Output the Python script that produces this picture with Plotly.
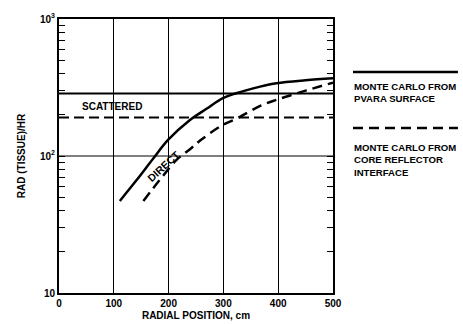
import plotly.graph_objects as go

# Data
direct_pvara_x = [111, 142, 172, 199, 239, 270, 299, 322, 367, 397, 450, 500]
direct_pvara_y = [47, 67, 96, 131, 183, 222, 264, 286, 321, 340, 357, 369]

direct_core_x = [154, 184, 215, 239, 260, 297, 327, 367, 397, 450, 500]
direct_core_y = [47, 67, 94, 112, 132, 167, 190, 232, 257, 300, 343]

scattered_x = [0, 500]
scattered_pvara_y = [286, 286]
scattered_core_y = [191, 191]

y_tickvals = [10, 20, 30, 40, 50, 60, 70, 80, 90,
              100, 200, 300, 400, 500, 600, 700, 800, 900, 1000]
y_ticktext = ["10", "", "", "", "", "", "", "", "",
              "10<sup>2</sup>", "", "", "", "", "", "", "", "", "10<sup>3</sup>"]
y_gridvals = [100]
x_tickvals = [0, 100, 200, 300, 400, 500]

FONT = dict(family="Liberation Sans, Arial, sans-serif", size=10, color="black", weight="bold")
LFONT = dict(FONT, size=9.6)

fig = go.Figure()
fig.add_trace(go.Scatter(x=scattered_x, y=scattered_pvara_y, mode="lines",
                         line=dict(color="black", width=2)))
fig.add_trace(go.Scatter(x=scattered_x, y=scattered_core_y, mode="lines",
                         line=dict(color="black", width=2, dash="10px,5px")))
fig.add_trace(go.Scatter(x=direct_pvara_x, y=direct_pvara_y, mode="lines",
                         line=dict(color="black", width=2.5, shape="spline", smoothing=1)))
fig.add_trace(go.Scatter(x=direct_core_x, y=direct_core_y, mode="lines",
                         line=dict(color="black", width=2.5, dash="10px,6px", shape="spline",
                                   smoothing=1)))

# horizontal grid line(s)
for gv in y_gridvals:
    fig.add_shape(type="line", xref="paper", yref="y", x0=0, x1=1, y0=gv, y1=gv,
                  line=dict(color="black", width=1), layer="below")

fig.add_annotation(x=191, y=1.925, xref="x", yref="y", text="DIRECT", showarrow=False,
                   textangle=-43, font=dict(FONT, size=10.5))
fig.add_annotation(x=97, y=2.36, xref="x", yref="y", text="SCATTERED", showarrow=False,
                   font=FONT)

# legend drawn manually
fig.add_shape(type="line", xref="paper", yref="paper", x0=1.073, x1=1.456, y0=0.807, y1=0.807,
              line=dict(color="black", width=2.5))
fig.add_shape(type="line", xref="paper", yref="paper", x0=1.073, x1=1.456, y0=0.602, y1=0.602,
              line=dict(color="black", width=2.5, dash="10px,6px"))
fig.add_annotation(xref="paper", yref="paper", x=1.07, y=0.78, xanchor="left", yanchor="top",
                   align="left", showarrow=False,
                   text="MONTE CARLO FROM<br>PVARA SURFACE", font=LFONT)
fig.add_annotation(xref="paper", yref="paper", x=1.07, y=0.558, xanchor="left", yanchor="top",
                   align="left", showarrow=False,
                   text="MONTE CARLO FROM<br>CORE REFLECTOR<br>INTERFACE", font=LFONT)

fig.update_layout(
    width=463, height=324,
    margin=dict(l=59, r=130, t=19, b=31),
    paper_bgcolor="white", plot_bgcolor="rgba(0,0,0,0)",
    showlegend=False,
    font=FONT,
)
fig.update_xaxes(range=[0, 500], tickvals=x_tickvals, showgrid=True, gridcolor="black",
                 gridwidth=1, showline=True, linecolor="black", linewidth=2, mirror=True,
                 ticks="", zeroline=False, tickfont=FONT, automargin=False,
                 title=dict(text="RADIAL POSITION, cm", font=FONT, standoff=4))
fig.update_yaxes(type="log", range=[1, 3], tickmode="array",
                 tickvals=y_tickvals, ticktext=y_ticktext,
                 showgrid=False, showline=True,
                 linecolor="black", linewidth=2, mirror="ticks", ticks="inside", ticklen=6,
                 tickcolor="black", tickwidth=1, zeroline=False, tickfont=FONT,
                 automargin=False, layer="above traces",
                 title=dict(text="RAD (TISSUE)/HR", font=FONT, standoff=12))

fig.write_html("out.html", config={"displayModeBar": False},
               post_script="document.body.style.margin='0';")
